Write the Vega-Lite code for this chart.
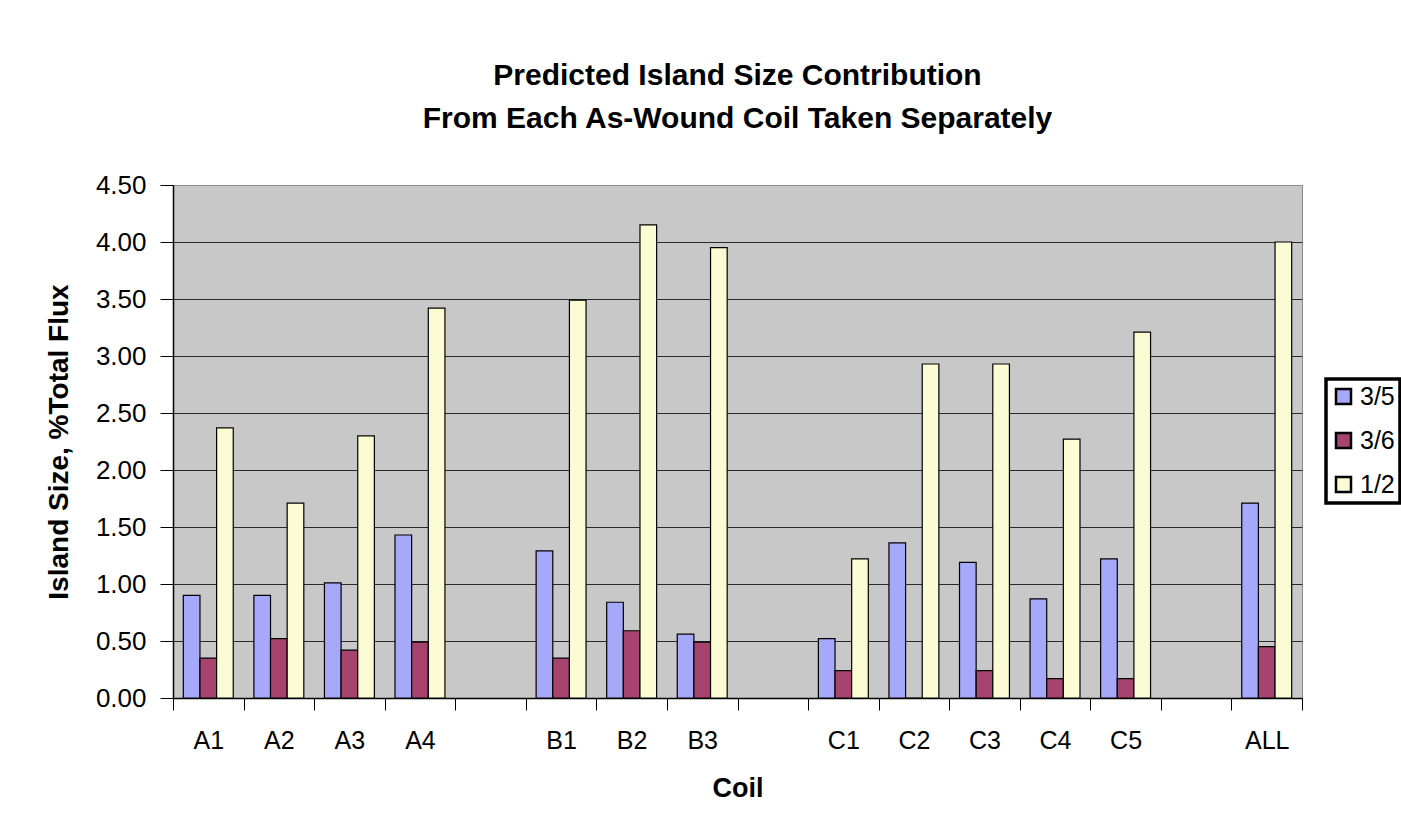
{
  "$schema": "https://vega.github.io/schema/vega-lite/v6.json",
  "width": 1129,
  "height": 513,
  "autosize": {"type": "none"},
  "padding": {"left": 173, "top": 185, "right": 99, "bottom": 140},
  "background": "white",
  "title": {
    "text": ["Predicted Island Size Contribution", "From Each As-Wound Coil Taken Separately"],
    "font": "Liberation Sans",
    "fontSize": 30,
    "fontWeight": "bold",
    "lineHeight": 43,
    "anchor": "middle",
    "offset": 38,
    "color": "black"
  },
  "data": {
    "values": [
      {"coil": "A1", "series": "3/5", "value": 0.90},
      {"coil": "A1", "series": "3/6", "value": 0.35},
      {"coil": "A1", "series": "1/2", "value": 2.37},
      {"coil": "A2", "series": "3/5", "value": 0.90},
      {"coil": "A2", "series": "3/6", "value": 0.52},
      {"coil": "A2", "series": "1/2", "value": 1.71},
      {"coil": "A3", "series": "3/5", "value": 1.01},
      {"coil": "A3", "series": "3/6", "value": 0.42},
      {"coil": "A3", "series": "1/2", "value": 2.30},
      {"coil": "A4", "series": "3/5", "value": 1.43},
      {"coil": "A4", "series": "3/6", "value": 0.49},
      {"coil": "A4", "series": "1/2", "value": 3.42},
      {"coil": "B1", "series": "3/5", "value": 1.29},
      {"coil": "B1", "series": "3/6", "value": 0.35},
      {"coil": "B1", "series": "1/2", "value": 3.49},
      {"coil": "B2", "series": "3/5", "value": 0.84},
      {"coil": "B2", "series": "3/6", "value": 0.59},
      {"coil": "B2", "series": "1/2", "value": 4.15},
      {"coil": "B3", "series": "3/5", "value": 0.56},
      {"coil": "B3", "series": "3/6", "value": 0.49},
      {"coil": "B3", "series": "1/2", "value": 3.95},
      {"coil": "C1", "series": "3/5", "value": 0.52},
      {"coil": "C1", "series": "3/6", "value": 0.24},
      {"coil": "C1", "series": "1/2", "value": 1.22},
      {"coil": "C2", "series": "3/5", "value": 1.36},
      {"coil": "C2", "series": "3/6", "value": 0.00},
      {"coil": "C2", "series": "1/2", "value": 2.93},
      {"coil": "C3", "series": "3/5", "value": 1.19},
      {"coil": "C3", "series": "3/6", "value": 0.24},
      {"coil": "C3", "series": "1/2", "value": 2.93},
      {"coil": "C4", "series": "3/5", "value": 0.87},
      {"coil": "C4", "series": "3/6", "value": 0.17},
      {"coil": "C4", "series": "1/2", "value": 2.27},
      {"coil": "C5", "series": "3/5", "value": 1.22},
      {"coil": "C5", "series": "3/6", "value": 0.17},
      {"coil": "C5", "series": "1/2", "value": 3.21},
      {"coil": "ALL", "series": "3/5", "value": 1.71},
      {"coil": "ALL", "series": "3/6", "value": 0.45},
      {"coil": "ALL", "series": "1/2", "value": 4.00}
    ]
  },
  "mark": {"type": "bar", "stroke": "black", "strokeWidth": 1.2},
  "encoding": {
    "x": {
      "field": "coil",
      "type": "nominal",
      "scale": {
        "domain": ["A1", "A2", "A3", "A4", "gapA", "B1", "B2", "B3", "gapB", "C1", "C2", "C3", "C4", "C5", "gapC", "ALL"],
        "paddingInner": 0,
        "paddingOuter": 0
      },
      "axis": {
        "title": "Coil",
        "titleFontSize": 27,
        "titleFontWeight": "bold",
        "titleColor": "black",
        "titlePadding": 22,
        "labelExpr": "indexof(datum.label, 'gap') === 0 ? '' : datum.label",
        "labelFontSize": 25,
        "labelColor": "black",
        "labelAngle": 0,
        "labelPadding": 18,
        "tickSize": 12,
        "tickBand": "extent",
        "tickColor": "black",
        "domainColor": "black",
        "domainWidth": 1.5,
        "grid": false
      }
    },
    "xOffset": {
      "field": "series",
      "type": "nominal",
      "scale": {"domain": ["3/5", "3/6", "1/2"], "paddingInner": 0, "paddingOuter": 0.62}
    },
    "y": {
      "field": "value",
      "type": "quantitative",
      "scale": {"domain": [0, 4.5], "nice": false},
      "axis": {
        "title": "Island Size, %Total Flux",
        "titleFontSize": 28,
        "titleFontWeight": "bold",
        "titleColor": "black",
        "titlePadding": 22,
        "values": [0, 0.5, 1, 1.5, 2, 2.5, 3, 3.5, 4, 4.5],
        "format": ".2f",
        "labelFontSize": 26,
        "labelColor": "black",
        "labelPadding": 14,
        "tickSize": 13,
        "tickColor": "black",
        "domainColor": "black",
        "domainWidth": 1.5,
        "grid": true,
        "gridColor": {"condition": {"test": "datum.value >= 4.5", "value": "#8c8c8c"}, "value": "#2a2a2a"},
        "gridWidth": 1.2
      }
    },
    "color": {
      "field": "series",
      "type": "nominal",
      "scale": {"domain": ["3/5", "3/6", "1/2"], "range": ["#A6A9F9", "#A6436F", "#FCFCD4"]},
      "legend": {
        "title": null,
        "orient": "none",
        "legendX": 1153,
        "legendY": 194,
        "strokeColor": "black",
        "fillColor": "white",
        "padding": 5,
        "symbolType": "square",
        "symbolSize": 225,
        "symbolStrokeColor": "black",
        "symbolStrokeWidth": 2.5,
        "symbolOpacity": 1,
        "labelFontSize": 25,
        "labelColor": "black",
        "labelOffset": 4,
        "rowPadding": 18
      }
    }
  },
  "config": {
    "font": "Liberation Sans",
    "view": {"fill": "#C8C8C8", "stroke": "#8c8c8c", "strokeWidth": 1},
    "legend": {"strokeWidth": 3.5}
  }
}
